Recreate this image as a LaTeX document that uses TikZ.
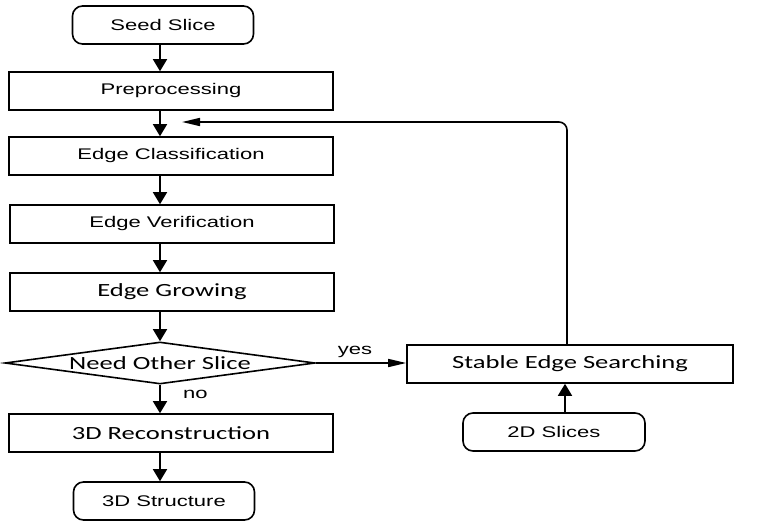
\documentclass[tikz,border=0pt]{standalone}
\usepackage{fontspec}
\setmainfont{Liberation Sans}
\newfontfamily\arialf[FakeStretch=1.43]{Liberation Sans}
\newfontfamily\calf[FakeStretch=1.43]{Carlito}
\usetikzlibrary{arrows.meta, shapes.geometric, calc}
\begin{document}
\begin{tikzpicture}[x=1pt,y=-1pt,
    box/.style={draw,line width=1.6pt,minimum height=38pt,minimum width=324pt,inner sep=0pt},
    term/.style={box,rounded corners=10pt,minimum width=181pt},
    af/.style={font=\arialf\fontsize{15.4}{18}\selectfont},
    cf/.style={font=\calf\fontsize{18.6}{22}\selectfont},
    down/.style={-{Triangle[length=12pt,width=14pt]},line width=1.6pt},
    side/.style={-{Triangle[length=18pt,width=8pt]},line width=1.6pt}]
            \useasboundingbox (0,0) rectangle (764,523);
            \node[term,af] (seed) at (163,25) {Seed Slice}; %開始
            \node[box,af] (pre) at (171,91) {Preprocessing};
            \node[box,af] (cls) at (171,156) {Edge Classification};
            \node[box,af] (ver) at (172,224) {Edge Verification};
            \node[box,cf] (grow) at (172,292) {Edge Growing};
            \node[diamond,draw,line width=1.6pt,aspect=7.4,inner sep=0pt,
                minimum width=310pt,minimum height=42pt,cf] (need) at (160,363) {Need Other Slice}; %判定
            \node[box,cf] (rec) at (171,433) {3D Reconstruction};
            \node[term,af] (str) at (164,501) {3D Structure}; %終了
            \node[box,cf,minimum width=326pt] (stab) at (570,364) {Stable Edge Searching};
            \node[term,af,minimum width=182pt] (sl) at (554,432) {2D Slices};
            \coordinate (merge) at (182,122); %合流点
            \draw[down] (seed.south -| need) -- (pre.north -| need);
            \draw[down] (pre.south -| need) -- (cls.north -| need);
            \draw[down] (cls.south -| need) -- (ver.north -| need);
            \draw[down] (ver.south -| need) -- (grow.north -| need);
            \draw[down] (grow.south -| need) -- (need.north);
            \draw[down] (need.south) -- (rec.north -| need) node[af,pos=0.35,anchor=west,xshift=19pt]{no};
            \draw[down] (rec.south -| need) -- (str.north -| need);
            \draw[side] (need.east) -- (need.east -| stab.west) node[af,midway,above=1pt,xshift=-6pt]{yes};
            \draw[down] ([xshift=11pt]sl.north) -- ([xshift=11pt]sl.north |- stab.south);
            \draw[side,rounded corners=8pt] ([xshift=-3pt]stab.north) |- (merge); %戻り
        \end{tikzpicture}
\end{document}
